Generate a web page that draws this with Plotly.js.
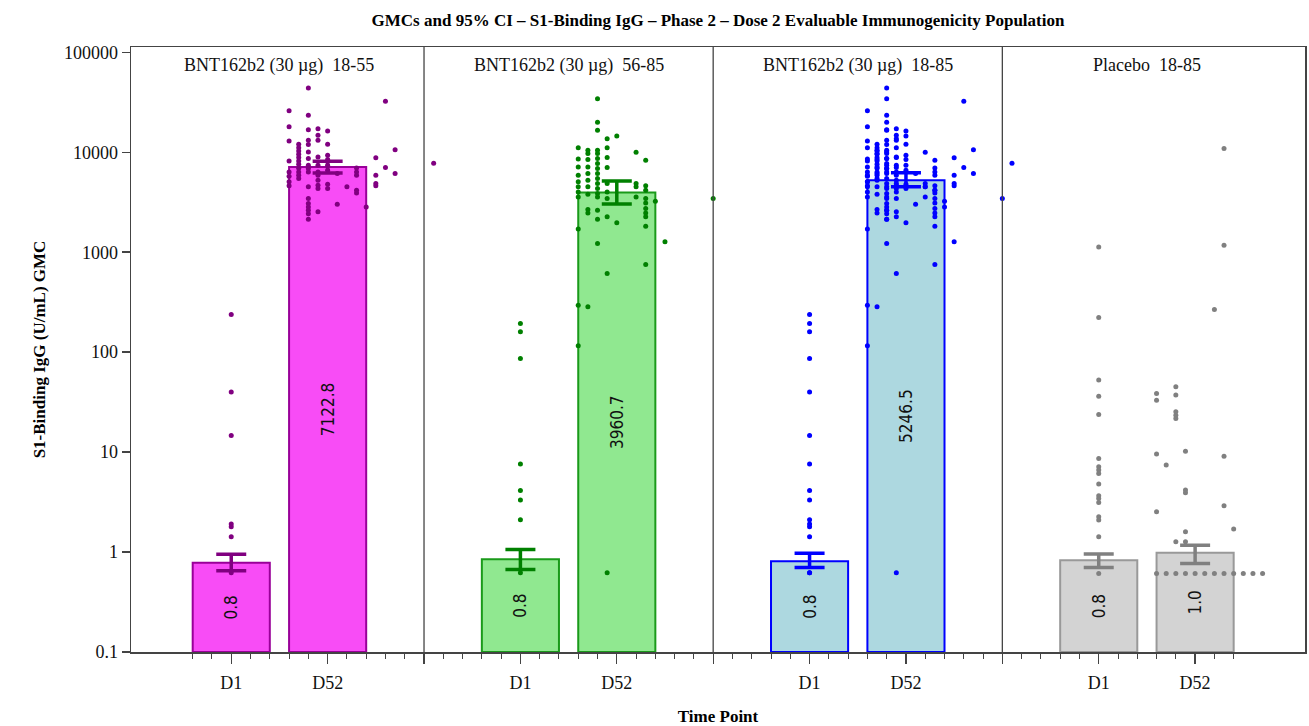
<!DOCTYPE html>
<html><head><meta charset="utf-8">
<script src="https://cdn.plot.ly/plotly-3.0.1.min.js"></script>
<style>html,body{margin:0;padding:0;background:#fff}#chart{width:1309px;height:726px}</style>
</head><body><div id="chart"></div>
<script>
// ---------- DATA ----------
const panelNames = ['BNT162b2 (30 µg)  18-55', 'BNT162b2 (30 µg)  56-85', 'BNT162b2 (30 µg)  18-85', 'Placebo  18-85'];
const timePoints = ['D1', 'D52'];
const gmcD1  = [0.78, 0.845, 0.81, 0.83];
const gmcD52 = [7122.8, 3960.7, 5246.5, 0.985];
const lowD1  = [0.65, 0.67, 0.70, 0.70];
const highD1 = [0.95, 1.06, 0.97, 0.955];
const lowD52  = [6200, 3030, 4510, 0.77];
const highD52 = [8150, 5170, 6220, 1.17];

// individual subject values (U/mL)
const p1D1 = [238, 40, 14.7, 1.91, 1.79, 1.42, 0.62];
const p1D52 = [
  25940, 18030, 12980, 8190, 6360, 5750, 5060, 4620,
  12020, 11120, 10310, 9550, 8840, 8190, 7590, 6920, 6360, 5890, 5450,
  43950, 23440, 16830, 13180, 11930, 10080, 8640, 7410, 6870, 6360, 4510, 3440, 3070, 2830, 2630, 2430, 2140,
  17220, 14790, 13180, 8980, 7410, 6360, 5890, 5250, 4680, 4330, 2540,
  16290, 12020, 9330, 8450, 7410, 6610, 4790, 4330,
  6120, 3020,
  4510,
  6970, 6360, 5890, 4170, 3920,
  2830,
  8800, 5890, 4870, 4620,
  32360, 7030,
  10620, 6120,
  7760
];
const p1D52Jit = [
  -2, -2, -2, -2, -2, -2, -2, -2,
  -1.5, -1.5, -1.5, -1.5, -1.5, -1.5, -1.5, -1.5, -1.5, -1.5, -1.5,
  -1, -1, -1, -1, -1, -1, -1, -1, -1, -1, -1, -1, -1, -1, -1, -1, -1,
  -0.5, -0.5, -0.5, -0.5, -0.5, -0.5, -0.5, -0.5, -0.5, -0.5, -0.5,
  0, 0, 0, 0, 0, 0, 0, 0,
  0.5, 0.5,
  1,
  1.5, 1.5, 1.5, 1.5, 1.5,
  2,
  2.5, 2.5, 2.5, 2.5,
  3, 3,
  3.5, 3.5,
  5.5
];
const p2D1 = [194, 160, 86.5, 7.6, 4.14, 3.31, 2.1, 0.62];
const p2D52 = [
  11120, 8570, 7130, 5890, 5060, 4510, 4010, 3575, 1710, 295, 116,
  10470, 9700, 8450, 7130, 6120, 5250, 4510, 3800, 2670, 2470, 284,
  34200, 19950, 16600, 10470, 9700, 8640, 7700, 6870, 6120, 5450, 4870, 4330, 3860, 3575, 2630, 2140, 1225,
  13610, 11120, 8840, 7030, 4870, 4010, 3440, 2260, 611, 0.62,
  14570, 1970,
  10000, 4870, 4510, 3575,
  8320, 4620, 4170, 3440, 3110, 2730, 2470, 2260, 1820, 753,
  3236,
  1270,
  3440
];
const p2D52Jit = [
  -2, -2, -2, -2, -2, -2, -2, -2, -2, -2, -2,
  -1.5, -1.5, -1.5, -1.5, -1.5, -1.5, -1.5, -1.5, -1.5, -1.5, -1.5,
  -1, -1, -1, -1, -1, -1, -1, -1, -1, -1, -1, -1, -1, -1, -1, -1, -1,
  -0.5, -0.5, -0.5, -0.5, -0.5, -0.5, -0.5, -0.5, -0.5, -0.5,
  0, 0,
  1, 1, 1, 1,
  1.5, 1.5, 1.5, 1.5, 1.5, 1.5, 1.5, 1.5, 1.5, 1.5,
  2,
  2.5,
  5
];
// 18-85 = 18-55 together with 56-85
const p3D1 = p1D1.concat(p2D1);
const p3D52 = p1D52.concat(p2D52);
const p3D52Jit = p1D52Jit.concat(p2D52Jit);
const p4D1 = [1130, 222, 52.5, 36.3, 23.8, 8.64, 7.13, 6.61, 6.12, 4.79, 3.66, 3.44, 3.14, 2.26, 2.09, 1.42, 0.61];
const p4D52 = [
  38.5, 33.1, 9.55, 2.53, 0.61,
  7.41, 0.61,
  45.0, 37.2, 25.3, 23.4, 21.7, 1.27, 0.61,
  10.2, 4.17, 3.92, 1.6, 1.27, 0.61,
  0.61,
  0.61,
  267, 0.61,
  10890, 1175, 9.07, 2.9, 0.61,
  1.7, 0.61,
  0.61, 0.61, 0.61
];
const p4D52Jit = [
  -2, -2, -2, -2, -2,
  -1.5, -1.5,
  -1, -1, -1, -1, -1, -1, -1,
  -0.5, -0.5, -0.5, -0.5, -0.5, -0.5,
  0,
  0.5,
  1, 1,
  1.5, 1.5, 1.5, 1.5, 1.5,
  2, 2,
  2.5, 3, 3.5
];

const yTickVals = [0.1, 1, 10, 100, 1000, 10000, 100000];
const yTickText = ['0.1', '1', '10', '100', '1000', '10000', '100000'];

// ---------- STYLE / LAYOUT ----------
const fillCol = ['#F84CF6', '#90E890', '#ADD8E0', '#D3D3D3'];
const lineCol = ['#990099', '#1A9A1A', '#0000FF', '#999999'];
const dotCol  = ['#800080', '#008000', '#0000FF', '#808080'];
const PW = 15;                     // panel width in axis units
const centers = [[5, 10], [20, 25], [35, 40], [50, 55]];
const BASE = 0.1;
const serif = 'Liberation Serif, Times New Roman, serif';
const narrow = 'DejaVu Sans Condensed, Liberation Sans Narrow, Arial Narrow, Liberation Sans, Arial, sans-serif';

const pts = [[p1D1, null, p1D52, p1D52Jit], [p2D1, null, p2D52, p2D52Jit], [p3D1, null, p3D52, p3D52Jit], [p4D1, null, p4D52, p4D52Jit]];

const traces = [];
// bars
for (let i = 0; i < 4; i++) {
  const g = [gmcD1[i], gmcD52[i]];
  traces.push({
    type: 'bar', x: centers[i], y: g.map(v => v - BASE), base: [BASE, BASE], width: 4,
    marker: {color: fillCol[i], line: {color: lineCol[i], width: 2}},
    text: g.map(v => v.toFixed(1)), textposition: 'inside', insidetextanchor: 'middle', textangle: -90,
    textfont: {family: narrow, size: 17, color: '#111'},
    hoverinfo: 'skip', showlegend: false, cliponaxis: false
  });
}
// individual points
for (let i = 0; i < 4; i++) {
  const [d1, d1j, d52, d52j] = pts[i];
  const xs = d1.map((v, k) => centers[i][0] + (d1j ? d1j[k] : 0)).concat(d52.map((v, k) => centers[i][1] + d52j[k]));
  traces.push({
    type: 'scatter', mode: 'markers', x: xs, y: d1.concat(d52),
    marker: {color: dotCol[i], size: 5, line: {width: 0}},
    hoverinfo: 'skip', showlegend: false, cliponaxis: false
  });
}
// GMC with 95% CI
for (let i = 0; i < 4; i++) {
  const g = [gmcD1[i], gmcD52[i]];
  const lo = [lowD1[i], lowD52[i]];
  const hi = [highD1[i], highD52[i]];
  traces.push({
    type: 'scatter', mode: 'markers', x: centers[i], y: g,
    marker: {color: 'rgba(0,0,0,0)', size: 2},
    error_y: {type: 'data', symmetric: false, array: hi.map((h, k) => h - g[k]), arrayminus: lo.map((l, k) => g[k] - l),
      color: dotCol[i], thickness: 3.5, width: 15},
    hoverinfo: 'skip', showlegend: false
  });
}

const majorVals = [], majorText = [], minorVals = [];
for (let i = 0; i < 4; i++) {
  majorVals.push(centers[i][0], centers[i][1]);
  majorText.push(timePoints[0], timePoints[1]);
  if (i < 3) { majorVals.push(PW * (i + 1)); majorText.push(''); }
}
for (let v = 3; v <= 57; v++) if (v % 5 !== 0) minorVals.push(v);

const annotations = panelNames.map((t, i) => ({
  text: t, x: PW * i + PW / 2, xref: 'x', y: 0.970, yref: 'paper', yanchor: 'middle', showarrow: false,
  font: {family: serif, size: 18, color: '#111'}
}));
const shapes = [1, 2, 3].map(k => ({
  type: 'line', xref: 'x', yref: 'paper', x0: PW * k, x1: PW * k, y0: 0, y1: 1,
  line: {color: '#444', width: 1.3}
}));

const layout = {
  width: 1309, height: 726,
  margin: {l: 131, r: 4, t: 47, b: 74},
  paper_bgcolor: '#fff', plot_bgcolor: '#fff',
  barmode: 'overlay',
  title: {text: 'GMCs and 95% CI \u2013 S1-Binding IgG \u2013 Phase 2 \u2013 Dose 2 Evaluable Immunogenicity Population',
    font: {family: serif, size: 17, color: '#000', weight: 'bold'}, x: 0.5, xref: 'paper', xanchor: 'center', y: 0.973, yref: 'container', yanchor: 'middle'},
  xaxis: {
    range: [-0.2, 60.7], showgrid: false, zeroline: false,
    showline: true, linecolor: '#444', linewidth: 1.5, mirror: true,
    tickmode: 'array', tickvals: majorVals, ticktext: majorText,
    ticks: 'outside', ticklen: 10, tickwidth: 1.3, tickcolor: '#444',
    ticklabelstandoff: 4,
    tickfont: {family: serif, size: 18, color: '#111'},
    minor: {tickmode: 'array', tickvals: minorVals, ticks: 'outside', ticklen: 5, tickwidth: 1, tickcolor: '#444', showgrid: false},
    title: {text: 'Time Point', font: {family: serif, size: 17, color: '#000', weight: 'bold'}, standoff: 20}
  },
  yaxis: {
    type: 'log', range: [-1, 5.053], showgrid: false, zeroline: false,
    showline: true, linecolor: '#444', linewidth: 1.5, mirror: true,
    tickmode: 'array', tickvals: yTickVals, ticktext: yTickText,
    ticks: 'outside', ticklen: 8, tickwidth: 1.5, tickcolor: '#444',
    tickfont: {family: serif, size: 18, color: '#111'},
    title: {text: 'S1-Binding IgG (U/mL) GMC', font: {family: serif, size: 17, color: '#000', weight: 'bold'}, standoff: 14}
  },
  annotations: annotations,
  shapes: shapes
};

Plotly.newPlot('chart', traces, layout, {displayModeBar: false, staticPlot: true});
</script>
</body></html>
